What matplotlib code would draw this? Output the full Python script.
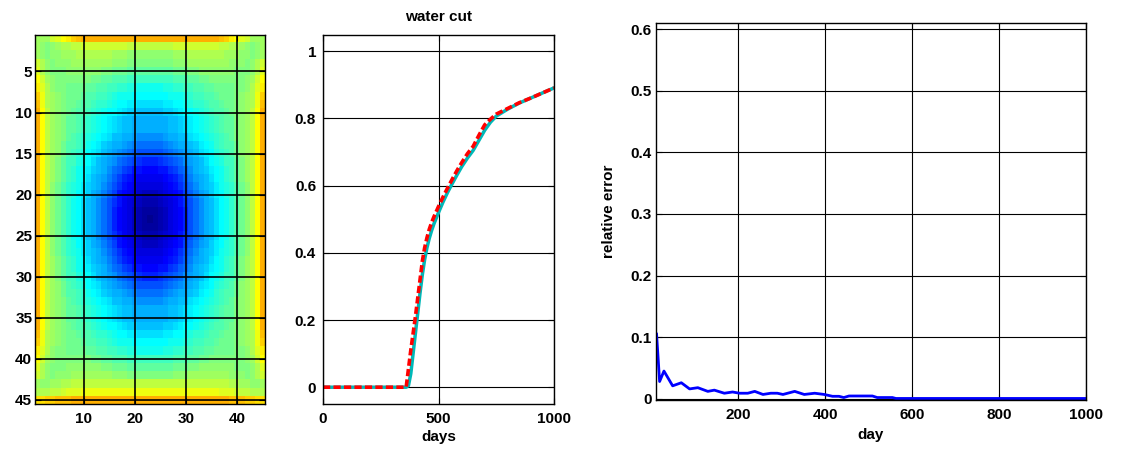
import numpy as np
import matplotlib
matplotlib.use("Agg")
import matplotlib.pyplot as plt
from matplotlib.colors import ListedColormap

# ---------------- data ----------------
# Heat-map levels (jet-64 colour index), rows 1..45,
# columns 1..23 (left half incl. centre column); field is mirror-symmetric in x.
LEVEL_CHARS = "0123456789ABCDEFGHIJKLMNOPQRSTUVWXYZabcdefghijklmnopqrstuvwxyz"
field_half_rows = [
    "XXXabdeghiiiiiiiiiiiiii",
    "XWVWXYYZZaaaaaaaaaZZZZZ",
    "XWVWWXXXYYYYYYYXXXWWWWW",
    "aYWVWWWXXXXXXXXWWWVVVVV",
    "bYWVVVWWWWWWWVVUUUTTTTT",
    "daXWVVVVVVVUUTTSSSRRRRR",
    "ebYWVVUUUUTTSSRRQQPPOOO",
    "gcYXWVUUUTSSRRQPOOONNNN",
    "hcYXWVUUTSSRQQPONNMMLLL",
    "idZXWVUTSSRQPONNMLKKJJJ",
    "idZXWVTTSRQPONMLKJJIIII",
    "idZXWVTTSRQPONMLKJJIIII",
    "idZXWVTSRQPONMLJJIIHGGG",
    "idZXWUSSRQONMKJIIHGFEEE",
    "idZXWUSRQPNMLJIHGFEDCCC",
    "idZXVTRRPONLJIHGEDCBA99",
    "idZXVTRQONMKJIGEDBA8877",
    "idZXVTRQONLJIHFDB987666",
    "idZWUSQPOMKJIGECA876555",
    "idZWUSQPNMKIHFDB8765433",
    "idZWUSQONLJIGECA8654322",
    "idZWUSQONLJIGEC97653211",
    "idZWUSQONLJIGEC97653210",
    "idZWUSQONLJIGEC97653211",
    "idZWUSQONLJIGECA8654322",
    "idZWUSQPNMKIHFDB8765433",
    "idZWUSQPOMKJIGECA876555",
    "idZXVTRQONLJIHFDB987666",
    "idZXVTRQONMKJIGEDBA8877",
    "idZXVTRRPONLJIHGEDCBA99",
    "idZXWUSRQPNMLJIHGFEDCCC",
    "idZXWUSSRQONMKJIIHGFEEE",
    "idZXWVTSRQPONMLJJIIHGGG",
    "idZXWVTTSRQPONMLKJJIIII",
    "idZXWVTTSRQPONMLKJJIIII",
    "idZXWVUTSSRQPONNMLKKJJJ",
    "hcYXWVUUTSSRQQPONNMMLLL",
    "gcYXWVUUUTSSRRQPOOONNNN",
    "ebYWVVUUUUTTSSRRQQPPOOO",
    "daXWVVVVVVVUUTTSSSRRRRR",
    "bYWVVVWWWWWWWVVUUUTTTTT",
    "aYWVWWWXXXXXXXXWWWVVVVV",
    "XWWXXYYZZZZZZZZZZZZZZZZ",
    "YYYZZabbbcccccccccccccc",
    "ffgghhhiiiiiiiiiiiiiiii",
]
heat_xticks = [10, 20, 30, 40]
heat_yticks = [5, 10, 15, 20, 25, 30, 35, 40, 45]

# water cut
wc_days = [0, 100, 200, 300, 360, 370, 380, 390, 400, 410, 420, 430, 440, 450,
           460, 470, 480, 500, 520, 540, 560, 580, 600, 625, 650, 675, 700,
           725, 750, 800, 850, 900, 950, 1000]
wc_ref = [0, 0, 0, 0, 0, 0.005, 0.04, 0.10, 0.16, 0.22, 0.28, 0.335, 0.38,
          0.415, 0.443, 0.466, 0.486, 0.52, 0.552, 0.581, 0.607, 0.632, 0.656,
          0.682, 0.705, 0.735, 0.765, 0.789, 0.807, 0.828, 0.846, 0.861, 0.876,
          0.891]
wc_est = [0, 0, 0, 0, 0, 0.055, 0.11, 0.16, 0.21, 0.265, 0.32, 0.375, 0.415,
          0.445, 0.47, 0.49, 0.507, 0.538, 0.567, 0.594, 0.62, 0.645, 0.668,
          0.695, 0.717, 0.75, 0.781, 0.798, 0.813, 0.83, 0.847, 0.861, 0.876,
          0.891]
wc_xticks = [0, 500, 1000]
wc_yticks = [0, 0.2, 0.4, 0.6, 0.8, 1]
wc_yticklabels = ["0", "0.2", "0.4", "0.6", "0.8", "1"]

# relative error
err_days = [12, 19, 29, 49, 69, 88, 107, 130, 145, 168, 187, 203, 222, 238,
            257, 275, 290, 303, 330, 352, 376, 398, 417, 432, 443, 455, 509,
            520, 555, 563, 700, 850, 1000]
err_vals = [0.105, 0.028, 0.045, 0.021, 0.026, 0.016, 0.018, 0.012, 0.014,
            0.009, 0.011, 0.009, 0.009, 0.012, 0.007, 0.009, 0.009, 0.007,
            0.012, 0.007, 0.009, 0.007, 0.004, 0.004, 0.002, 0.0045, 0.0045,
            0.002, 0.002, 0.0005, 0.0005, 0.0005, 0.0005]
err_xticks = [200, 400, 600, 800, 1000]
err_yticks = [0, 0.1, 0.2, 0.3, 0.4, 0.5, 0.6]
err_yticklabels = ["0", "0.1", "0.2", "0.3", "0.4", "0.5", "0.6"]

# ---------------- style ----------------
plt.rcParams["font.family"] = ["Liberation Sans", "DejaVu Sans"]
plt.rcParams["font.weight"] = "bold"
plt.rcParams["font.size"] = 11
plt.rcParams["axes.labelweight"] = "bold"
plt.rcParams["axes.titleweight"] = "bold"

# MATLAB-style jet(64) colour table
_i = np.arange(64)
_r = np.clip(np.minimum((_i - 23) / 16.0, (71 - _i) / 16.0), 0, 1)
_g = np.clip(np.minimum((_i - 7) / 16.0, (55 - _i) / 16.0), 0, 1)
_b = np.clip(np.minimum((_i + 9) / 16.0, (39 - _i) / 16.0), 0, 1)
jet64 = ListedColormap(np.column_stack([_r, _g, _b]))

fig = plt.figure(figsize=(11.34, 4.53), dpi=100)

def style(ax, ypad=3):
    ax.tick_params(direction="in", length=4, width=0.8, top=True, right=True,
                   labelsize=11)
    ax.tick_params(axis="x", pad=6)
    ax.tick_params(axis="y", pad=ypad)
    for s in ax.spines.values():
        s.set_linewidth(1.0)
        s.set_color("k")

# ---- heat map ----
ax1 = fig.add_axes([35 / 1134, 49 / 453, 230 / 1134, 369.5 / 453])
grid = np.array([[LEVEL_CHARS.index(c) for c in h + h[-2::-1]]
                 for h in field_half_rows])
ax1.imshow(grid, cmap=jet64, vmin=-0.5, vmax=63.5,
           extent=(0.5, 45.5, 45.5, 0.5), aspect="auto",
           interpolation="nearest")
ax1.set_xticks(heat_xticks)
ax1.set_yticks(heat_yticks)
ax1.grid(True, color="k", linewidth=1.2)
style(ax1, ypad=2)

# ---- water cut ----
ax2 = fig.add_axes([323 / 1134, 49 / 453, 231 / 1134, 369.5 / 453])
ax2.plot(wc_days, wc_ref, color=(0.0, 0.72, 0.72), linewidth=2.5)
ax2.plot(wc_days, wc_est, color="red", linewidth=2.6,
         linestyle=(0, (2.0, 0.9)))
ax2.set_xlim(0, 1000)
ax2.set_ylim(-0.05, 1.05)
ax2.set_xticks(wc_xticks)
ax2.set_yticks(wc_yticks)
ax2.set_yticklabels(wc_yticklabels)
ax2.set_xlabel("days", fontsize=11, labelpad=3)
ax2.set_title("water cut", fontsize=11, pad=10)
ax2.grid(True, color="k", linewidth=0.8)
style(ax2, ypad=5)

# ---- relative error ----
ax3 = fig.add_axes([655.7 / 1134, 53 / 453, 430 / 1134, 377 / 453])
ax3.plot(err_days, err_vals, color="blue", linewidth=2.0)
ax3.set_xlim(10, 1000)
ax3.set_ylim(-0.002, 0.61)
ax3.set_xticks(err_xticks)
ax3.set_yticks(err_yticks)
ax3.set_yticklabels(err_yticklabels)
ax3.set_xlabel("day", fontsize=11, labelpad=4)
ax3.set_ylabel("relative error", fontsize=11, labelpad=10)
ax3.grid(True, color="k", linewidth=0.8)
style(ax3, ypad=3)

fig.savefig("out.png", dpi=100)
